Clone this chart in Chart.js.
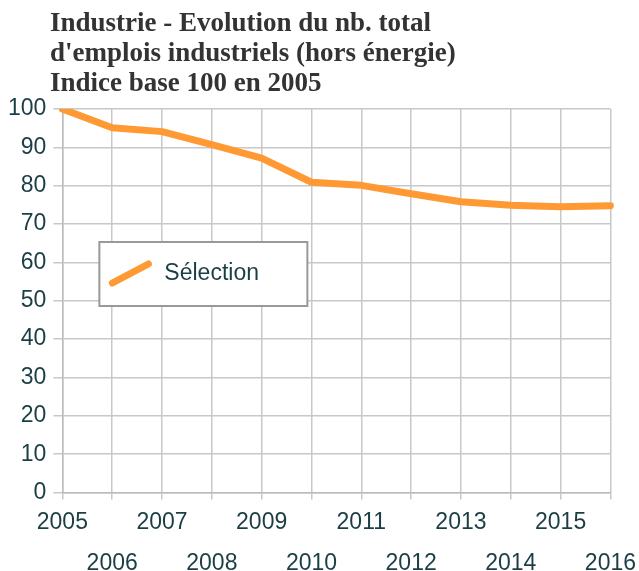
<!DOCTYPE html>
<html>
<head>
<meta charset="utf-8">
<script src="https://cdn.jsdelivr.net/npm/chart.js@4/dist/chart.umd.min.js"></script>
<style>
  html,body{margin:0;padding:0;background:#fff;}
  #wrap{position:relative;width:639px;height:571px;}
  #titre{position:absolute;left:50px;top:7px;font-family:"Liberation Serif",serif;font-weight:bold;font-size:27px;line-height:30px;color:#333;}
</style>
</head>
<body>
<div id="wrap">
  <canvas id="mychart" width="639" height="571"></canvas>
  <div id="titre">Industrie - Evolution du nb. total<br>d'emplois industriels (hors énergie)<br>Indice base 100 en 2005</div>
</div>
<script>
var years=["2005","2006","2007","2008","2009","2010","2011","2012","2013","2014","2015","2016"]
var selection=[100,95.1,94.1,90.7,87.2,80.9,80.1,77.9,75.8,74.9,74.5,74.8]
var serieLabel="Sélection"
var lineColor="#ff9933"
var textColor="#1b3e45"
var fontName="'Liberation Sans', Arial, sans-serif"

// legend drawn inside the plot area, like the original
var legendBox={
    id:"legendBox",
    afterDraw:function(chart){
        var ctx=chart.ctx
        var a=chart.chartArea
        var x=a.left+37,y=a.top+133,w=208,h=64
        ctx.save()
        ctx.fillStyle="#fff"
        ctx.fillRect(x,y,w,h)
        ctx.strokeStyle="#999"
        ctx.lineWidth=2
        ctx.strokeRect(x,y,w,h)
        ctx.strokeStyle=chart.data.datasets[0].borderColor
        ctx.lineWidth=7
        ctx.lineCap="round"
        ctx.beginPath()
        ctx.moveTo(x+13,y+41)
        ctx.lineTo(x+49,y+22)
        ctx.stroke()
        ctx.fillStyle=textColor
        ctx.font="23px "+fontName
        ctx.textBaseline="middle"
        ctx.fillText(chart.data.datasets[0].label,x+65,y+32)
        ctx.restore()
    }
}

var c=document.getElementById("mychart").getContext("2d")
var chart=new Chart(c,{
    type:"line",
    data:{
        labels:years,
        datasets:[{
            label:serieLabel,
            data:selection,
            borderColor:lineColor,
            backgroundColor:lineColor,
            borderWidth:7,
            pointRadius:0,
            tension:0,
            borderCapStyle:"round",
            borderJoinStyle:"round"
        }]
    },
    options:{
        responsive:false,
        animation:false,
        layout:{padding:{top:109,right:22,left:1,bottom:-16}},
        plugins:{legend:{display:false},title:{display:false},tooltip:{enabled:false}},
        scales:{
            x:{
                offset:false,
                grid:{color:"#c8c8c8",lineWidth:1.5,tickLength:7},
                border:{color:"#bbb",width:1.5},
                ticks:{
                    color:textColor,
                    autoSkip:false,
                    maxRotation:0,
                    padding:3,
                    font:{family:fontName,size:23,lineHeight:1.77},
                    callback:function(v,i){
                        return i%2==0 ? [years[i],""] : ["",years[i]]
                    }
                }
            },
            y:{
                min:0,max:100,
                grid:{color:"#c8c8c8",lineWidth:1.5,tickLength:9},
                border:{color:"#bbb",width:1.5},
                ticks:{
                    stepSize:10,
                    color:textColor,
                    padding:7,
                    font:{family:fontName,size:23}
                }
            }
        }
    },
    plugins:[legendBox]
})
</script>
</body>
</html>
